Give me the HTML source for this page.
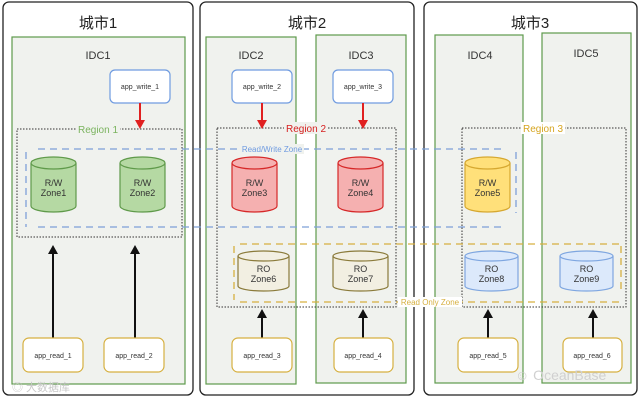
<!DOCTYPE html>
<html><head><meta charset="utf-8"><style>
html,body{margin:0;padding:0;background:#fff}
svg{display:block}
text{font-family:"Liberation Sans","Noto Sans CJK SC",sans-serif}
</style></head><body>
<svg width="640" height="400" viewBox="0 0 640 400" xmlns="http://www.w3.org/2000/svg">
<defs>
<marker id="ar" markerWidth="8" markerHeight="8" refX="4" refY="7" orient="auto" markerUnits="userSpaceOnUse"><path d="M0,0 L4,8 L8,0 L4,2 Z" fill="#e02020" transform="rotate(0)"/></marker>
</defs>
<rect width="640" height="400" fill="#fff"/>
<!-- cities -->
<rect x="3" y="2" width="190" height="393" rx="6" fill="#fff" stroke="#222" stroke-width="1.3"/>
<rect x="200" y="2" width="214" height="393" rx="6" fill="#fff" stroke="#222" stroke-width="1.3"/>
<rect x="424" y="2" width="213" height="393" rx="6" fill="#fff" stroke="#222" stroke-width="1.3"/>
<g font-size="15" fill="#222" text-anchor="middle">
<text x="98" y="28">城市1</text><text x="307" y="28">城市2</text><text x="530" y="28">城市3</text></g>
<!-- IDCs -->
<g fill="#f0f2ee" stroke="#5e9a4c" stroke-width="1.2">
<rect x="12" y="37" width="173" height="347"/>
<rect x="206" y="37" width="90" height="347"/>
<rect x="316" y="35" width="90" height="348"/>
<rect x="435" y="35" width="88" height="348"/>
<rect x="542" y="33" width="89" height="350"/>
</g>
<g font-size="11" fill="#333" text-anchor="middle">
<text x="98" y="59">IDC1</text><text x="251" y="59">IDC2</text><text x="361" y="59">IDC3</text><text x="480" y="59">IDC4</text><text x="586" y="57">IDC5</text></g>
<!-- app_write -->
<g fill="#fff" stroke="#6f9be0" stroke-width="1.2">
<rect x="110" y="70" width="60" height="33" rx="5"/>
<rect x="232" y="70" width="60" height="33" rx="5"/>
<rect x="333" y="70" width="60" height="33" rx="5"/>
</g>
<g font-size="7" fill="#333" text-anchor="middle">
<text x="140" y="89">app_write_1</text><text x="262" y="89">app_write_2</text><text x="363" y="89">app_write_3</text></g>
<!-- regions -->
<g fill="none" stroke="#333" stroke-width="1" stroke-dasharray="1.5,1.5">
<rect x="17" y="129" width="165" height="108"/>
<rect x="217" y="128" width="179" height="179"/>
<rect x="462" y="128" width="164" height="179"/>
</g>
<g font-size="10" text-anchor="middle">
<rect x="76" y="123" width="44" height="12" fill="#f0f2ee"/><text x="98" y="133" fill="#7ab35e">Region 1</text>
<rect x="284" y="122" width="44" height="12" fill="#f0f2ee"/><text x="306" y="132" fill="#d62020">Region 2</text>
<rect x="521" y="122" width="44" height="12" fill="#fff"/><text x="543" y="132" fill="#d6a520">Region 3</text>
</g>
<!-- RW zone -->
<g fill="none" stroke="#7ea0d8" stroke-width="1.3" stroke-dasharray="7,5">
<path d="M38 149 H503"/><path d="M38 227 H503"/><path d="M26 152 V227"/><path d="M516 152 V213"/>
</g>
<rect x="240" y="144" width="64" height="10" fill="#f0f2ee"/>
<text x="272" y="152" font-size="8" fill="#6f9be0" text-anchor="middle">Read/Write Zone</text>
<!-- RO zone -->
<g fill="none" stroke="#d6b040" stroke-width="1.3" stroke-dasharray="7,5">
<path d="M240 244 H623"/><path d="M240 302 H623"/><path d="M234 246 V300"/><path d="M621 246 V292"/>
</g>
<rect x="398" y="297" width="64" height="10" fill="#fff"/>
<text x="430" y="305" font-size="8" fill="#d6b040" text-anchor="middle">Read Only Zone</text>
<!-- cylinders -->
<g stroke-width="1.2">
<g fill="#b5d9a3" stroke="#5f9a4a">
<path d="M31 163 V206 A22.5 6 0 0 0 76 206 V163"/><ellipse cx="53.5" cy="163" rx="22.5" ry="6"/>
<path d="M120 163 V206 A22.5 6 0 0 0 165 206 V163"/><ellipse cx="142.5" cy="163" rx="22.5" ry="6"/>
</g>
<g fill="#f5b0b0" stroke="#d62828">
<path d="M232 163 V206 A22.5 6 0 0 0 277 206 V163"/><ellipse cx="254.5" cy="163" rx="22.5" ry="6"/>
<path d="M338 163 V206 A22.5 6 0 0 0 383 206 V163"/><ellipse cx="360.5" cy="163" rx="22.5" ry="6"/>
</g>
<g fill="#ffe07a" stroke="#d6a830">
<path d="M465 163 V206 A22.5 6 0 0 0 510 206 V163"/><ellipse cx="487.5" cy="163" rx="22.5" ry="6"/>
</g>
<g fill="#f2efe2" stroke="#8a7a3a">
<path d="M238 256 V286 A25.5 5 0 0 0 289 286 V256"/><ellipse cx="263.5" cy="256" rx="25.5" ry="5"/>
<path d="M333 256 V286 A27.5 5 0 0 0 388 286 V256"/><ellipse cx="360.5" cy="256" rx="27.5" ry="5"/>
</g>
<g fill="#dce9fb" stroke="#7ea6e0">
<path d="M465 256 V286 A26.5 5 0 0 0 518 286 V256"/><ellipse cx="491.5" cy="256" rx="26.5" ry="5"/>
<path d="M560 256 V286 A26.5 5 0 0 0 613 286 V256"/><ellipse cx="586.5" cy="256" rx="26.5" ry="5"/>
</g>
</g>
<g font-size="9" fill="#333" text-anchor="middle">
<text x="53.5" y="186">R/W</text><text x="53.5" y="196">Zone1</text>
<text x="142.5" y="186">R/W</text><text x="142.5" y="196">Zone2</text>
<text x="254.5" y="186">R/W</text><text x="254.5" y="196">Zone3</text>
<text x="360.5" y="186">R/W</text><text x="360.5" y="196">Zone4</text>
<text x="487.5" y="186">R/W</text><text x="487.5" y="196">Zone5</text>
<text x="263.5" y="272">RO</text><text x="263.5" y="282">Zone6</text>
<text x="360.5" y="272">RO</text><text x="360.5" y="282">Zone7</text>
<text x="491.5" y="272">RO</text><text x="491.5" y="282">Zone8</text>
<text x="586.5" y="272">RO</text><text x="586.5" y="282">Zone9</text>
</g>
<!-- red arrows -->
<g stroke="#e02020" stroke-width="2">
<path d="M140 103 V121"/><path d="M262 103 V121"/><path d="M363 103 V121"/></g>
<g fill="#e02020">
<path d="M135 120 L145 120 L140 129 Z"/><path d="M257 120 L267 120 L262 129 Z"/><path d="M358 120 L368 120 L363 129 Z"/></g>
<!-- black arrows -->
<g stroke="#111" stroke-width="2">
<path d="M53 338 V252"/><path d="M135 338 V252"/><path d="M262 338 V316"/><path d="M363 338 V316"/><path d="M488 338 V316"/><path d="M593 338 V316"/></g>
<g fill="#111">
<path d="M48 254 L58 254 L53 245 Z"/><path d="M130 254 L140 254 L135 245 Z"/>
<path d="M257 318 L267 318 L262 309 Z"/><path d="M358 318 L368 318 L363 309 Z"/>
<path d="M483 318 L493 318 L488 309 Z"/><path d="M588 318 L598 318 L593 309 Z"/></g>
<!-- app_read -->
<g fill="#fff" stroke="#d6b040" stroke-width="1.2">
<rect x="23" y="338" width="60" height="34" rx="6"/><rect x="104" y="338" width="60" height="34" rx="6"/>
<rect x="232" y="338" width="60" height="34" rx="6"/><rect x="334" y="338" width="59" height="34" rx="6"/>
<rect x="458" y="338" width="60" height="34" rx="6"/><rect x="563" y="338" width="59" height="34" rx="6"/>
</g>
<g font-size="7" fill="#333" text-anchor="middle">
<text x="53" y="358">app_read_1</text><text x="134" y="358">app_read_2</text><text x="262" y="358">app_read_3</text>
<text x="363" y="358">app_read_4</text><text x="488" y="358">app_read_5</text><text x="592" y="358">app_read_6</text></g>
<!-- watermarks -->
<text x="12" y="391" font-size="11" fill="#c8c8c8">◎ 大数据库</text>
<text x="515" y="380" font-size="14" fill="#d0d0d0">☺ OceanBase</text>
</svg>
</body></html>
